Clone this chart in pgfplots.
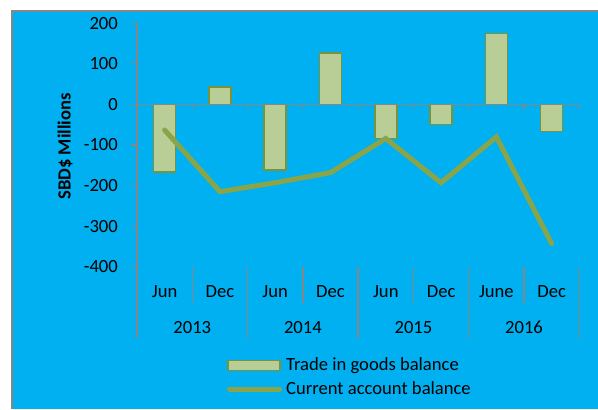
\documentclass[border=0pt]{standalone}
\usepackage{fontspec}
\setmainfont{Carlito}
\usepackage{pgfplots}
\pgfplotsset{compat=1.18}
\definecolor{bgblue}{HTML}{00B0F0}
\definecolor{barfill}{HTML}{B9CD96}
\definecolor{bardraw}{HTML}{77933C}
\definecolor{linecol}{HTML}{8AA44A}
\definecolor{axgray}{HTML}{868686}
\newcommand{\cf}{\fontsize{18.6bp}{22bp}\selectfont}
\begin{document}
\begin{tikzpicture}[x=1bp,y=1bp]
\useasboundingbox (0,0) rectangle (598,409);
\fill[white] (0,0) rectangle (598,409);
\fill[bgblue] (12,0) rectangle (598,398);
\draw[axgray, line width=1.5bp] (12,0) -- (12,398) -- (598,398);
\begin{axis}[
 at={(137bp,142.3bp)}, anchor=south west,
 scale only axis, width=442.3bp, height=243.4bp,
 xmin=-0.5, xmax=7.5, ymin=-400, ymax=200,
 clip=false,
 axis x line*=bottom, axis y line*=left,
 x axis line style={draw=none},
 y axis line style={axgray, line width=1.2bp},
 ytick={-400,-300,-200,-100,0,100,200},
 yticklabels={-400,-300,-200,-100,0,100,200},
 xtick={0,...,7},
 xticklabels={Jun,Dec,Jun,Dec,Jun,Dec,June,Dec},
 tick align=outside,
 major tick length=6bp,
 ytick style={axgray, line width=1.2bp},
 xtick style={draw=none},
 ticklabel style={font=\cf, text=black},
 yticklabel style={inner sep=0pt, xshift=-13bp},
 xticklabel style={anchor=base, inner sep=0pt, yshift=-24.5bp},
]
\addplot[ybar, bar width=22bp, fill=barfill, draw=bardraw, line width=1.5bp]
 coordinates {(0,-166) (1,43) (2,-162) (3,127) (4,-84) (5,-49) (6,175) (7,-67)};
\addplot[linecol, line width=5bp, line cap=round, no marks]
 coordinates {(0,-63) (1,-215) (2,-193) (3,-168) (4,-84) (5,-193) (6,-80) (7,-343)};
\draw[axgray, line width=1.5bp] (axis cs:-0.5,0) -- (axis cs:7.5,0);
\pgfplotsinvokeforeach{0.5,1.5,2.5,3.5,4.5,5.5,6.5,7.5}{
 \draw[axgray, line width=1.2bp] (axis cs:#1,0) -- ([yshift=-5bp]axis cs:#1,0);
}
\pgfplotsinvokeforeach{0.5,2.5,4.5,6.5}{
 \draw[axgray, line width=1.5bp] (axis cs:#1,-400) -- ([yshift=-36bp]axis cs:#1,-400);
}
\pgfplotsinvokeforeach{-0.5,1.5,3.5,5.5,7.5}{
 \draw[axgray, line width=1.5bp] (axis cs:#1,-400) -- ([yshift=-71.6bp]axis cs:#1,-400);
}
\node[anchor=base, font=\cf, inner sep=0pt] at ([yshift=-66.6bp]axis cs:0.5,-400) {2013};
\node[anchor=base, font=\cf, inner sep=0pt] at ([yshift=-66.6bp]axis cs:2.5,-400) {2014};
\node[anchor=base, font=\cf, inner sep=0pt] at ([yshift=-66.6bp]axis cs:4.5,-400) {2015};
\node[anchor=base, font=\cf, inner sep=0pt] at ([yshift=-66.6bp]axis cs:6.5,-400) {2016};
\end{axis}
\node[rotate=90, font=\cf\bfseries, inner sep=0pt] at (65,262.5) {SBD\$ Millions};
\filldraw[fill=barfill, draw=bardraw, line width=1.5bp] (228,38.3) rectangle (280,48.7);
\draw[linecol, line width=5bp, line cap=round] (229.5,20) -- (279.5,20);
\node[anchor=base west, font=\cf, inner sep=0pt] at (286,39) {Trade in goods balance};
\node[anchor=base west, font=\cf, inner sep=0pt] at (286,15) {Current account balance};
\end{tikzpicture}
\end{document}
